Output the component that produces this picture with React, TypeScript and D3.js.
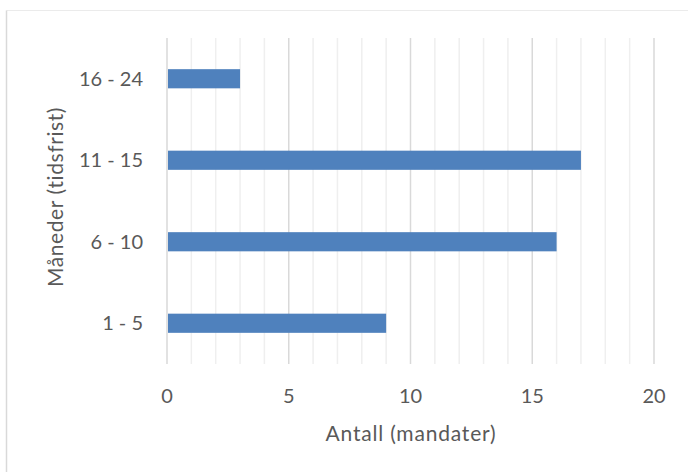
import React from "react";
import * as d3 from "d3";

const categories = ["1 - 5", "6 - 10", "11 - 15", "16 - 24"];
const values = [9, 16, 17, 3];
const xTicks = [0, 5, 10, 15, 20];
const minorTicks = d3.range(0, 21, 1);
const xTitle = "Antall (mandater)";
const yTitle = "Måneder (tidsfrist)";

const W = 688;
const H = 472;
const plot = { left: 167, right: 654, top: 38, bottom: 364 };
const FONT = "Lato, 'Open Sans', sans-serif";
const TEXT = "#595959";

export default function App() {
  const x = d3.scaleLinear().domain([0, 20]).range([plot.left, plot.right]);
  const y = d3
    .scaleBand<string>()
    .domain([...categories].reverse())
    .range([plot.top, plot.bottom])
    .paddingInner(0.765)
    .paddingOuter(0.3825);

  return (
    <svg
      width={W}
      height={H}
      style={{ position: "fixed", left: 0, top: 0, background: "#fff" }}
      fontFamily={FONT}
    >
      <rect x={0} y={0} width={W} height={H} fill="#fff" />
      <line x1={6.5} x2={W + 2} y1={10.5} y2={10.5} stroke="#ebebeb" strokeWidth={1} />
      <line x1={6.5} x2={6.5} y1={10.5} y2={H + 2} stroke="#d9d9d9" strokeWidth={1.5} />

      {minorTicks
        .filter((t) => t % 5 !== 0)
        .map((t) => (
          <line
            key={"m" + t}
            x1={x(t)}
            x2={x(t)}
            y1={plot.top}
            y2={plot.bottom}
            stroke="#efefef"
            strokeWidth={1.5}
          />
        ))}
      {xTicks.map((t) => (
        <line
          key={"M" + t}
          x1={x(t)}
          x2={x(t)}
          y1={plot.top}
          y2={plot.bottom}
          stroke="#d9d9d9"
          strokeWidth={1.5}
        />
      ))}

      {categories.map((c, i) => (
        <rect
          key={c}
          x={x(0) + 1}
          y={y(c)!}
          width={x(values[i]) - x(0) - 1}
          height={y.bandwidth()}
          fill="#4f81bd"
        />
      ))}

      {categories.map((c) => (
        <text
          key={"l" + c}
          x={143}
          y={y(c)! + y.bandwidth() / 2}
          dy="0.36em"
          textAnchor="end"
          fontSize={20}
          fill={TEXT}
        >
          {c}
        </text>
      ))}

      {xTicks.map((t) => (
        <text key={"t" + t} x={x(t)} y={403} textAnchor="middle" fontSize={20} fill={TEXT}>
          {t}
        </text>
      ))}

      <text
        x={411}
        y={441}
        textAnchor="middle"
        fontSize={21}
        letterSpacing={0.8}
        fill={TEXT}
      >
        {xTitle}
      </text>
      <text
        transform={`translate(63, 197) rotate(-90)`}
        textAnchor="middle"
        fontSize={21}
        letterSpacing={0.6}
        fill={TEXT}
      >
        {yTitle}
      </text>
    </svg>
  );
}
